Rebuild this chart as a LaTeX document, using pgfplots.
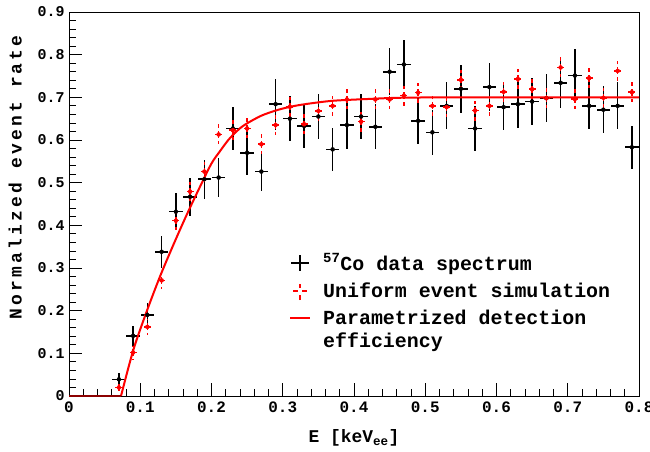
\documentclass[border=0pt]{standalone}
\usepackage{fontspec}
\setmainfont{Liberation Mono}
\usepackage{pgfplots}
\usepackage{pgfplotstable}
\pgfplotsset{compat=1.18}

% 57Co data: bin centre, half bin width, normalized rate, error
\pgfplotstableread{
x    ex     y      ey
0.07 0.0095 0.039  0.016
0.09 0.0095 0.141  0.024
0.11 0.0095 0.190  0.028
0.13 0.0095 0.338  0.038
0.15 0.0095 0.432  0.043
0.17 0.0095 0.467  0.045
0.19 0.0095 0.508  0.046
0.21 0.0095 0.512  0.046
0.23 0.0095 0.627  0.051
0.25 0.0095 0.570  0.053
0.27 0.0095 0.526  0.046
0.29 0.0095 0.684  0.060
0.31 0.0095 0.650  0.053
0.33 0.0095 0.633  0.052
0.35 0.0095 0.655  0.052
0.37 0.0095 0.578  0.050
0.39 0.0095 0.635  0.055
0.41 0.0095 0.655  0.053
0.43 0.0095 0.631  0.053
0.45 0.0095 0.760  0.055
0.47 0.0095 0.777  0.057
0.49 0.0095 0.645  0.055
0.51 0.0095 0.618  0.052
0.53 0.0095 0.680  0.055
0.55 0.0095 0.720  0.056
0.57 0.0095 0.627  0.052
0.59 0.0095 0.724  0.056
0.61 0.0095 0.677  0.054
0.63 0.0095 0.684  0.056
0.65 0.0095 0.690  0.055
0.67 0.0095 0.698  0.056
0.69 0.0095 0.734  0.060
0.71 0.0095 0.751  0.063
0.73 0.0095 0.680  0.055
0.75 0.0095 0.671  0.055
0.77 0.0095 0.680  0.055
0.79 0.0095 0.583  0.050
}\datatab

% uniform event simulation
\pgfplotstableread{
x    ex     y      ey
0.07 0.0080 0.020  0.012
0.09 0.0080 0.102  0.016
0.11 0.0080 0.162  0.018
0.13 0.0080 0.271  0.020
0.15 0.0080 0.411  0.022
0.17 0.0080 0.479  0.023
0.19 0.0080 0.526  0.024
0.21 0.0080 0.613  0.025
0.23 0.0080 0.623  0.025
0.25 0.0080 0.627  0.025
0.27 0.0080 0.590  0.025
0.29 0.0080 0.635  0.025
0.31 0.0080 0.678  0.025
0.33 0.0080 0.637  0.025
0.35 0.0080 0.668  0.025
0.37 0.0080 0.680  0.025
0.39 0.0080 0.695  0.025
0.41 0.0080 0.643  0.025
0.43 0.0080 0.695  0.025
0.45 0.0080 0.695  0.025
0.47 0.0080 0.704  0.025
0.49 0.0080 0.711  0.025
0.51 0.0080 0.680  0.025
0.53 0.0080 0.677  0.025
0.55 0.0080 0.741  0.025
0.57 0.0080 0.669  0.025
0.59 0.0080 0.680  0.025
0.61 0.0080 0.713  0.025
0.63 0.0080 0.743  0.025
0.65 0.0080 0.719  0.025
0.67 0.0080 0.698  0.025
0.69 0.0080 0.770  0.025
0.71 0.0080 0.696  0.025
0.73 0.0080 0.745  0.025
0.75 0.0080 0.699  0.025
0.77 0.0080 0.762  0.025
0.79 0.0080 0.712  0.025
}\simtab

% parametrized detection efficiency
\pgfplotstableread{
x      y
0.073  0.000
0.0903 0.108
0.109  0.198
0.1277 0.280
0.1464 0.354
0.165  0.424
0.184  0.491
0.200  0.545
0.212  0.574
0.2236 0.600
0.235  0.620
0.247  0.636
0.270  0.657
0.294  0.671
0.317  0.680
0.340  0.686
0.371  0.692
0.418  0.696
0.465  0.699
0.550  0.700
0.800  0.700
}\efftab

\begin{document}
\begin{tikzpicture}
\begin{axis}[
  width=570bp, height=384bp, scale only axis,
  xmin=0, xmax=0.8, ymin=0, ymax=0.9,
  clip=false,
  xtick={0,0.1,0.2,0.3,0.4,0.5,0.6,0.7,0.8},
  ytick={0,0.1,0.2,0.3,0.4,0.5,0.6,0.7,0.8,0.9},
  minor x tick num=4, minor y tick num=4,
  tick align=inside, tick pos=left,
  major tick length=13bp, minor tick length=7bp,
  tick style={black, line width=0.8bp},
  axis line style={black, line width=0.9bp},
  /pgf/number format/assume math mode=true,
  /pgf/number format/fixed,
  xticklabel style={font=\fontsize{16}{16}\selectfont\bfseries, yshift=-2bp},
  yticklabel style={font=\fontsize{15}{15}\selectfont\bfseries, xshift=-1bp},
  xlabel={E [keV\textsubscript{ee}]},
  ylabel={Normalized event rate},
  xlabel style={font=\fontsize{18}{18}\selectfont\bfseries,
    at={(rel axis cs:0.5,0)}, anchor=base, yshift=-47bp},
  ylabel style={font=\fontsize{18}{18}\selectfont\bfseries\addfontfeatures{LetterSpace=18},
    at={([xshift=-47bp]rel axis cs:0,0.94)}, anchor=south east, inner sep=0pt},
  legend style={at={(rel axis cs:0.386,0.376)}, anchor=north west, draw=none, fill=none,
    inner sep=0pt, font=\fontsize{20}{23}\selectfont\bfseries, row sep=7bp,
    column sep=10bp, cells={anchor=west, align=left}},
]
\addplot[black, only marks, mark=none,
  legend image code/.code={\draw[black, line width=1.6bp] (0bp,0bp)--(18bp,0bp) (9bp,-8bp)--(9bp,8bp);},
  error bars/.cd, x dir=both, x explicit, y dir=both, y explicit, error mark=none,
  error bar style={line width=1.6bp, black}]
  table[x=x, y=y, x error=ex, y error=ey]{\datatab};
\addlegendentry{\textsuperscript{57}Co data spectrum}

\addplot[red, only marks, mark=none,
  legend image code/.code={\draw[red, line width=1.6bp] (2bp,0bp)--(7bp,0bp) (11bp,0bp)--(16bp,0bp) (9bp,-9bp)--(9bp,-4bp) (9bp,3bp)--(9bp,7bp);},
  error bars/.cd, x dir=both, x explicit, y dir=both, y explicit, error mark=none,
  error bar style={line width=1.6bp, red, dash pattern=on 3.5bp off 3bp}]
  table[x=x, y=y, x error=ex, y error=ey]{\simtab};
\addlegendentry{Uniform event simulation}

\addplot[red, line width=2bp, smooth, tension=0.5, mark=none,
  legend image code/.code={\draw[red, line width=2bp] (-1bp,11.5bp)--(19bp,11.5bp);}]
  table[x=x, y=y]{\efftab};
\addlegendentry{Parametrized detection\\efficiency}

\addplot[red!55!black, line width=2bp, mark=none, forget plot]
  coordinates {(0,0) (0.073,0)};

\coordinate (ll) at (rel axis cs:0,0);
\coordinate (ur) at (rel axis cs:1,1);
\end{axis}
\pgfresetboundingbox
\path ([shift={(-69bp,-56bp)}]ll) rectangle ([shift={(11bp,12bp)}]ur);
\end{tikzpicture}
\end{document}
